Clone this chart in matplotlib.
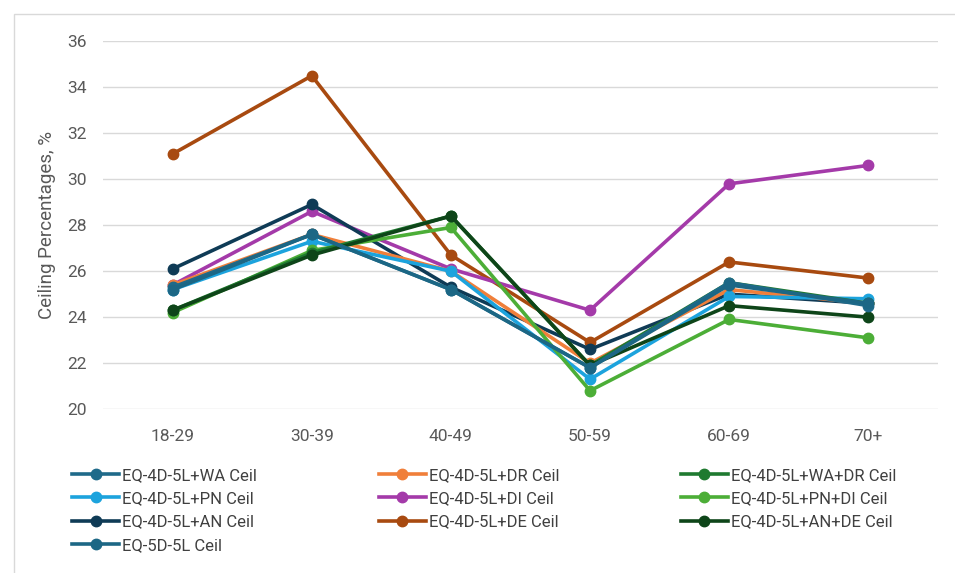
import matplotlib.pyplot as plt
from matplotlib.patches import Rectangle

age_groups = ["18-29", "30-39", "40-49", "50-59", "60-69", "70+"]

series_names = [
    "EQ-4D-5L+WA Ceil", "EQ-4D-5L+PN Ceil", "EQ-4D-5L+AN Ceil", "EQ-5D-5L Ceil",
    "EQ-4D-5L+DR Ceil", "EQ-4D-5L+DI Ceil", "EQ-4D-5L+DE Ceil",
    "EQ-4D-5L+WA+DR Ceil", "EQ-4D-5L+PN+DI Ceil", "EQ-4D-5L+AN+DE Ceil",
]

wa = [25.3, 27.6, 25.2, 21.8, 25.5, 24.5]
pn = [25.2, 27.3, 26.0, 21.3, 24.9, 24.8]
an = [26.1, 28.9, 25.3, 22.6, 25.0, 24.6]
eq5d = [25.2, 27.6, 25.2, 21.8, 25.4, 24.6]
dr = [25.4, 27.6, 26.0, 22.0, 25.2, 24.6]
di = [25.4, 28.6, 26.1, 24.3, 29.8, 30.6]
de = [31.1, 34.5, 26.7, 22.9, 26.4, 25.7]
wa_dr = [24.3, 26.8, 28.4, 21.9, 25.5, 24.6]
pn_di = [24.2, 26.9, 27.9, 20.8, 23.9, 23.1]
an_de = [24.3, 26.7, 28.4, 21.9, 24.5, 24.0]

colors = {
    "EQ-4D-5L+WA Ceil": "#1f6a8a",
    "EQ-4D-5L+PN Ceil": "#1ca3dd",
    "EQ-4D-5L+AN Ceil": "#0f3b56",
    "EQ-5D-5L Ceil": "#1c6785",
    "EQ-4D-5L+DR Ceil": "#f07f3a",
    "EQ-4D-5L+DI Ceil": "#a43aa9",
    "EQ-4D-5L+DE Ceil": "#a84a10",
    "EQ-4D-5L+WA+DR Ceil": "#1f7a30",
    "EQ-4D-5L+PN+DI Ceil": "#4cae37",
    "EQ-4D-5L+AN+DE Ceil": "#0e4519",
}
values = dict(zip(series_names, [wa, pn, an, eq5d, dr, di, de, wa_dr, pn_di, an_de]))

draw_order = [
    "EQ-4D-5L+DE Ceil", "EQ-4D-5L+DI Ceil", "EQ-4D-5L+AN Ceil",
    "EQ-4D-5L+DR Ceil", "EQ-4D-5L+PN Ceil", "EQ-4D-5L+PN+DI Ceil",
    "EQ-4D-5L+WA+DR Ceil", "EQ-4D-5L+AN+DE Ceil", "EQ-4D-5L+WA Ceil",
    "EQ-5D-5L Ceil",
]

plt.rcParams['font.family'] = ['Roboto', 'DejaVu Sans']

fig = plt.figure(figsize=(9.55, 5.73), dpi=100)
fig.patches.append(Rectangle((14 / 955, -0.01), 1.0, 1 - 14 / 573 + 0.01,
                             transform=fig.transFigure, fill=False,
                             edgecolor="#d9d9d9", linewidth=1))
ax = fig.add_axes([0.108, 0.286, 0.874, 0.642])

x = list(range(len(age_groups)))
handles = {}
for name in draw_order:
    h, = ax.plot(x, values[name], color=colors[name], linewidth=2.6,
                 marker="o", markersize=7.5, label=name)
    handles[name] = h

ax.set_xlim(-0.5, len(age_groups) - 0.5)
ax.set_ylim(20, 36)
ax.set_yticks(range(20, 37, 2))
ax.set_xticks(x)
ax.set_xticklabels(age_groups)
ax.grid(axis="y", color="#d9d9d9", linewidth=1)
ax.set_axisbelow(True)
for s in ax.spines.values():
    s.set_visible(False)
ax.tick_params(axis="both", length=0, colors="#595959", labelsize=12.5)
ax.tick_params(axis="x", pad=14)
ax.tick_params(axis="y", pad=12)
ax.set_ylabel("Ceiling Percentages, %", fontsize=13.5, color="#595959", labelpad=8)

# matplotlib fills legend columns first, so series_names gives the reference's rows
fig.legend([handles[n] for n in series_names], series_names,
           loc="upper left", bbox_to_anchor=(0.06, 0.21), ncol=3,
           frameon=False, fontsize=12, handlelength=2.8, handletextpad=0.2,
           columnspacing=7.3, labelspacing=0.5, labelcolor="#404040")

fig.savefig("out.png", dpi=100)
